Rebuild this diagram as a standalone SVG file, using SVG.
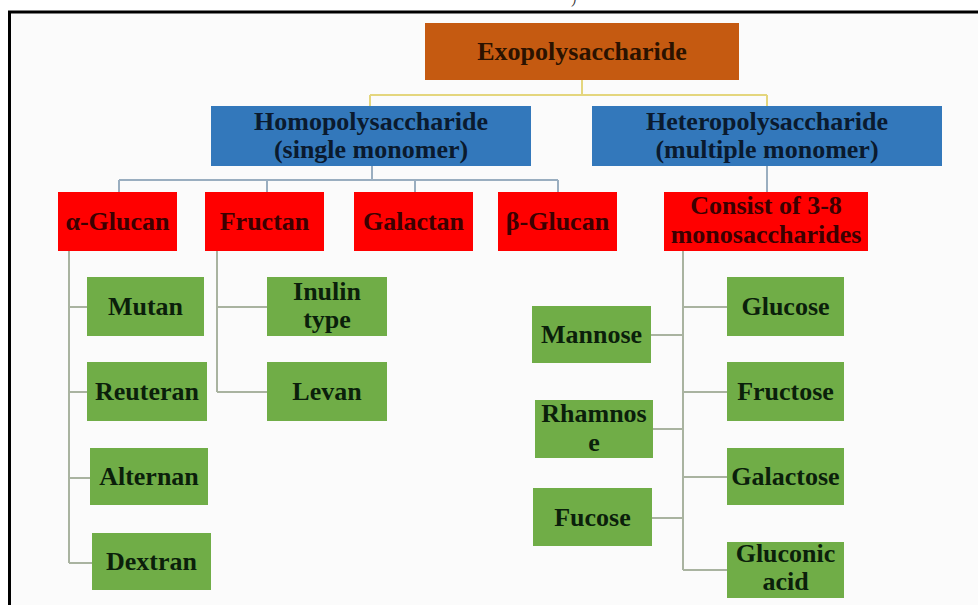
<svg xmlns="http://www.w3.org/2000/svg" width="978" height="605" viewBox="0 0 978 605">
<style>
.t{font-family:"Liberation Serif","Times New Roman",serif;font-weight:bold;font-size:26px;text-anchor:middle}
.exo rect{fill:#c55a11}
.exo text{fill:#2b1200}
.blue rect{fill:#3378bb}
.blue text{fill:#0a1a2e}
.red rect{fill:#ff0000}
.red text{fill:#3b0000}
.green rect{fill:#70ad47}
.green text{fill:#0b1f0b}
.cy{fill:none;stroke:#e4d67e;stroke-width:2}
.cb{fill:none;stroke:#9aaec0;stroke-width:2}
.cg{fill:none;stroke:#a9b3a0;stroke-width:2}
</style>
<rect x="0" y="0" width="978" height="605" fill="#ffffff"/>
<rect x="11" y="13" width="967" height="592" fill="#fbfbfb"/>
<path d="M9.5,605 V12 H978" fill="none" stroke="#000" stroke-width="3"/>
<text x="572" y="4" font-family="Liberation Serif,serif" font-style="italic" font-size="12" fill="#333">)</text>

<g id="connectors">
  <path class="cy" d="M582,80 V95 M370,95 H767 M370,95 V106 M767,95 V106"/>
  <path class="cb" d="M372,166 V180 M119,180 H558 M119,180 V192 M267,180 V192 M415,180 V192 M558,180 V192 M767,166 V192"/>
  <path class="cg" d="M69,251 V563 M69,307 H87 M69,392 H87 M69,478 H90 M69,563 H92"/>
  <path class="cg" d="M217,251 V392 M217,307 H267 M217,392 H267"/>
  <path class="cg" d="M683,251 V570 M683,307 H727 M683,392 H727 M683,477 H727 M683,570 H727 M651,335 H683 M653,429 H683 M652,518 H683"/>
</g>

<g id="exopolysaccharide" class="exo"><rect x="425" y="23" width="314" height="57"/><text class="t" x="582" y="60">Exopolysaccharide</text></g>
<g id="homopolysaccharide" class="blue"><rect x="211" y="106" width="320" height="60"/><text class="t" x="371" y="130">Homopolysaccharide</text><text class="t" x="371" y="158">(single monomer)</text></g>
<g id="heteropolysaccharide" class="blue"><rect x="592" y="106" width="350" height="60"/><text class="t" x="767" y="130">Heteropolysaccharide</text><text class="t" x="767" y="158">(multiple monomer)</text></g>

<g id="alpha-glucan" class="red"><rect x="58" y="192" width="119" height="59"/><text class="t" x="117.5" y="230">α-Glucan</text></g>
<g id="fructan" class="red"><rect x="205" y="192" width="119" height="59"/><text class="t" x="264.5" y="230">Fructan</text></g>
<g id="galactan" class="red"><rect x="354" y="192" width="119" height="59"/><text class="t" x="413.5" y="230">Galactan</text></g>
<g id="beta-glucan" class="red"><rect x="498" y="192" width="119" height="59"/><text class="t" x="557.5" y="230">β-Glucan</text></g>
<g id="consist" class="red"><rect x="664" y="192" width="204" height="59"/><text class="t" x="766" y="214">Consist  of 3-8</text><text class="t" x="766" y="243">monosaccharides</text></g>

<g id="mutan" class="green"><rect x="87" y="277" width="117" height="59"/><text class="t" x="145.5" y="315">Mutan</text></g>
<g id="reuteran" class="green"><rect x="87" y="362" width="120" height="59"/><text class="t" x="147" y="400">Reuteran</text></g>
<g id="alternan" class="green"><rect x="90" y="448" width="118" height="57"/><text class="t" x="149" y="485">Alternan</text></g>
<g id="dextran" class="green"><rect x="92" y="533" width="119" height="57"/><text class="t" x="151.5" y="570">Dextran</text></g>

<g id="inulin" class="green"><rect x="267" y="277" width="120" height="59"/><text class="t" x="327" y="300">Inulin</text><text class="t" x="327" y="328">type</text></g>
<g id="levan" class="green"><rect x="267" y="362" width="120" height="59"/><text class="t" x="327" y="400">Levan</text></g>

<g id="mannose" class="green"><rect x="532" y="306" width="119" height="57"/><text class="t" x="591.5" y="343">Mannose</text></g>
<g id="rhamnose" class="green"><rect x="535" y="400" width="118" height="58"/><text class="t" x="594" y="422">Rhamnos</text><text class="t" x="594" y="451">e</text></g>
<g id="fucose" class="green"><rect x="533" y="488" width="119" height="58"/><text class="t" x="592.5" y="526">Fucose</text></g>

<g id="glucose" class="green"><rect x="727" y="277" width="117" height="59"/><text class="t" x="785.5" y="315">Glucose</text></g>
<g id="fructose" class="green"><rect x="727" y="362" width="117" height="59"/><text class="t" x="785.5" y="400">Fructose</text></g>
<g id="galactose" class="green"><rect x="727" y="448" width="117" height="57"/><text class="t" x="785.5" y="485">Galactose</text></g>
<g id="gluconic" class="green"><rect x="727" y="542" width="117" height="56"/><text class="t" x="785.5" y="562">Gluconic</text><text class="t" x="785.5" y="590">acid</text></g>
</svg>
